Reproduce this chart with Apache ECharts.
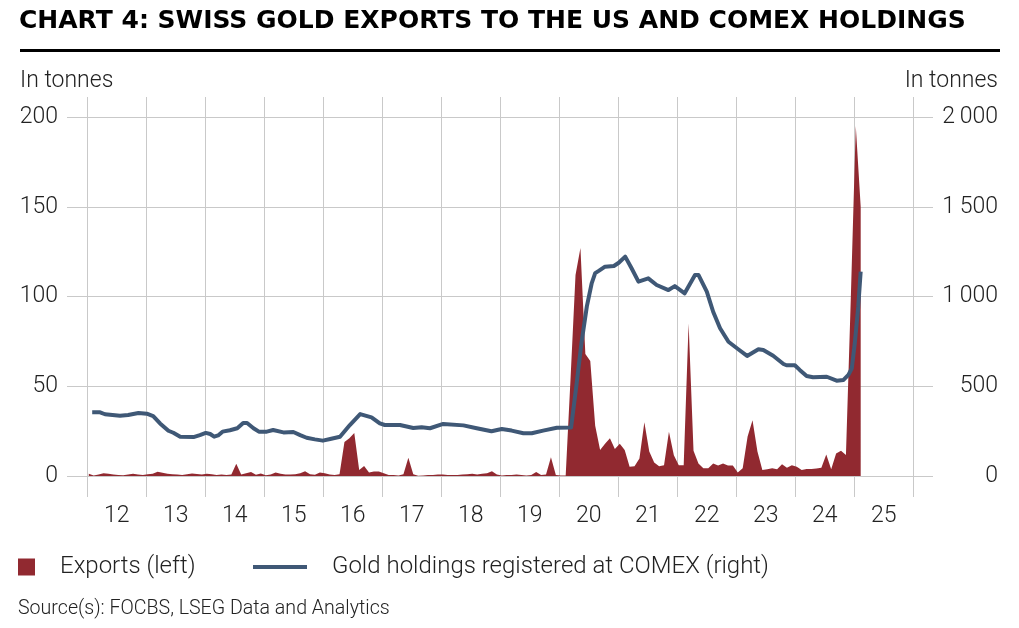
<!DOCTYPE html>
<html>
<head>
<meta charset="utf-8">
<title>Swiss gold exports to the US and COMEX holdings</title>
<script src="https://cdn.jsdelivr.net/npm/echarts@6/dist/echarts.min.js"></script>
<style>
  html, body { margin: 0; padding: 0; background: #fff; }
  #chart { width: 1019px; height: 628px; }
</style>
</head>
<body>
<div id="chart"></div>
<script>
  // year labels under the x axis (one per year band)
  const yearLabels = ['12', '13', '14', '15', '16', '17', '18', '19', '20', '21', '22', '23', '24', '25']

  // Swiss gold exports to the US, tonnes per month, Jan 2012 .. Feb 2025
  const exportsStart = 2012
  const exportsTonnes = [
    1.2, 0.3, 0.8, 1.5, 1.2, 0.8, 0.5, 0.4, 0.8, 1.2, 0.9, 0.6,
    1.0, 1.3, 2.3, 1.8, 1.2, 1.0, 0.8, 0.6, 1.0, 1.4, 1.1, 0.9,
    1.2, 1.0, 0.6, 0.9, 0.5, 0.8, 6.8, 0.9, 1.5, 2.2, 0.7, 1.4,
    0.4, 0.8, 2.0, 1.2, 0.9, 0.8, 1.0, 1.6, 2.6, 1.0, 0.7, 2.0,
    1.5, 0.8, 0.5, 1.0, 19, 21, 24, 3.3, 5.6, 2.0, 2.5, 2.5,
    1.5, 0.5, 0.5, 0.3, 1.0, 10.2, 1.0, 0.2, 0.3, 0.5, 0.5, 0.8,
    0.8, 0.5, 0.6, 0.5, 0.8, 1.0, 1.2, 0.8, 1.2, 1.5, 2.6, 0.8,
    0.3, 0.5, 0.5, 0.8, 0.6, 0.3, 0.5, 2.2, 0.5, 0.8, 10.5, 0.6,
    0.3, 0.3, 55, 112, 127, 68, 64, 28, 14.5, 18, 21, 15,
    18, 14.5, 5.2, 5.5, 9.8, 30, 13.6, 7.5, 5.5, 6, 24.7, 11.5,
    6, 6, 85, 14, 7, 4.3, 4.3, 7, 5.8, 7, 5.8, 5.8,
    2, 4.3, 22, 31, 13.6, 3.3, 3.7, 4.3, 3.7, 6.5, 4.6, 6,
    5.2, 3.3, 3.9, 3.9, 4.2, 4.6, 12, 3.7, 12.6, 14.1, 11.7, 100,
    195, 150,
  ]

  // gold holdings registered at COMEX, tonnes (dates as decimal years)
  const comexYear = [
    2012.083, 2012.217, 2012.300, 2012.554, 2012.692, 2012.867, 2013.008, 2013.117, 2013.233, 2013.375,
    2013.458, 2013.575, 2013.800, 2013.908, 2014.008, 2014.083, 2014.150, 2014.217, 2014.292, 2014.417,
    2014.542, 2014.642, 2014.708, 2014.817, 2014.908, 2015.042, 2015.150, 2015.325, 2015.492, 2015.608,
    2015.717, 2015.858, 2015.992, 2016.117, 2016.283, 2016.450, 2016.625, 2016.817, 2016.958, 2017.042,
    2017.300, 2017.525, 2017.667, 2017.808, 2018.033, 2018.375, 2018.600, 2018.850, 2019.025, 2019.192,
    2019.392, 2019.533, 2019.725, 2019.958, 2020.200, 2020.292, 2020.375, 2020.467, 2020.550, 2020.608,
    2020.675, 2020.775, 2020.925, 2021.008, 2021.117, 2021.225, 2021.342, 2021.508, 2021.650, 2021.850,
    2021.958, 2022.125, 2022.300, 2022.358, 2022.500, 2022.608, 2022.725, 2022.867, 2023.033, 2023.183,
    2023.375, 2023.458, 2023.625, 2023.800, 2023.850, 2023.992, 2024.075, 2024.192, 2024.300, 2024.533,
    2024.700, 2024.817, 2024.900, 2024.958, 2025.008, 2025.067, 2025.108,
  ]
  const comexTonnes = [
    355, 355, 344, 336, 340, 351, 347, 334, 293, 252,
    241, 219, 217, 228, 240, 234, 219, 226, 247, 255,
    266, 295, 295, 266, 247, 247, 256, 243, 245, 228,
    213, 204, 197, 206, 219, 284, 345, 327, 293, 284,
    284, 267, 271, 266, 290, 282, 266, 249, 262, 253,
    238, 238, 253, 269, 270, 510, 740, 945, 1075, 1130,
    1144, 1166, 1170, 1188, 1222, 1157, 1083, 1101, 1064, 1036,
    1058, 1018, 1120, 1120, 1027, 915, 823, 748, 706, 669,
    706, 702, 670, 624, 617, 617, 591, 557, 550, 553,
    531, 535, 563, 600, 739, 943, 1138,
  ]

  const RED = '#912930'
  const BLUE = '#3f5876'
  const GRID = '#c9c9c9'
  const TEXT = '#222'
  const FONT = 'Roboto, "Liberation Sans", sans-serif'

  // monthly points sit a little after the start of each month
  const exportsData = exportsTonnes.map((v, i) => [exportsStart + (i + 0.3) / 12, v])
  const comexData = comexYear.map((y, i) => [y, comexTonnes[i]])

  const fmtThousands = (v) => (v >= 1000 ? Math.floor(v / 1000) + '\u2009' + String(v % 1000).padStart(3, '0') : String(v))

  const labelStyle = { color: TEXT, fontSize: 23, fontFamily: FONT, fontWeight: 300 }
  const legendText = { ...labelStyle, fontSize: 24, padding: [0, 0, 0, 20] }

  const chart = echarts.init(document.getElementById('chart'), null, { renderer: 'canvas' })

  chart.setOption({
    animation: false,
    backgroundColor: '#fff',
    title: [
      {
        text: 'CHART 4: SWISS GOLD EXPORTS TO THE US AND COMEX HOLDINGS',
        left: 19,
        top: 9,
        padding: 0,
        textStyle: { color: '#000', fontSize: 25, fontWeight: 'bold', fontFamily: '"DejaVu Sans", sans-serif' },
      },
      { text: 'In tonnes', left: 20, top: 70, padding: 0, textStyle: labelStyle },
      { text: 'In tonnes', right: 21, top: 70, padding: 0, textStyle: labelStyle },
      {
        text: 'Source(s): FOCBS, LSEG Data and Analytics',
        left: 18,
        top: 599,
        padding: 0,
        textStyle: { color: TEXT, fontSize: 19.6, fontFamily: FONT, fontWeight: 300 },
      },
    ],
    // black rule under the title
    graphic: [
      {
        type: 'line',
        shape: { x1: 20, y1: 50.5, x2: 1000, y2: 50.5 },
        style: { stroke: '#000', lineWidth: 3 },
      },
    ],
    legend: [
      {
        data: ['Exports (left)'],
        left: 18,
        top: 555,
        padding: 0,
        icon: 'rect',
        itemWidth: 17,
        itemHeight: 17,
        textStyle: legendText,
      },
      {
        data: ['Gold holdings registered at COMEX (right)'],
        left: 253,
        top: 555,
        padding: 0,
        icon: 'rect',
        itemWidth: 54,
        itemHeight: 4,
        textStyle: legendText,
      },
    ],
    grid: [
      // horizontal gridlines and y labels
      { left: 67, right: 86, top: 117, bottom: 152 },
      // data area, year gridlines
      { left: 87.3, right: 105.7, top: 97, bottom: 131 },
    ],
    xAxis: [
      { gridIndex: 0, type: 'value', min: 0, max: 1, show: false },
      {
        gridIndex: 1,
        type: 'value',
        min: 2012,
        max: 2026,
        interval: 1,
        position: 'bottom',
        axisLine: { show: false },
        axisTick: { show: false },
        axisLabel: { show: false },
        splitLine: { show: true, lineStyle: { color: GRID, width: 1 } },
      },
      {
        gridIndex: 1,
        type: 'category',
        data: yearLabels,
        boundaryGap: true,
        position: 'bottom',
        axisLine: { show: false },
        axisTick: { show: false },
        splitLine: { show: false },
        axisLabel: { ...labelStyle, margin: 8, interval: 0 },
      },
    ],
    yAxis: [
      {
        gridIndex: 0,
        type: 'value',
        position: 'left',
        min: 0,
        max: 200,
        interval: 50,
        axisLine: { show: false },
        axisTick: { show: false },
        axisLabel: { ...labelStyle, margin: 9 },
        splitLine: { show: true, lineStyle: { color: GRID, width: 1 } },
      },
      {
        gridIndex: 0,
        type: 'value',
        position: 'right',
        min: 0,
        max: 2000,
        interval: 500,
        axisLine: { show: false },
        axisTick: { show: false },
        splitLine: { show: false },
        axisLabel: { ...labelStyle, margin: 65, align: 'right', formatter: fmtThousands },
      },
      // hidden scales for the data grid, lined up with the labelled ones
      { gridIndex: 1, type: 'value', min: -11.7, max: 211.14, show: false, splitLine: { show: false } },
      { gridIndex: 1, type: 'value', min: -117, max: 2111.4, show: false, splitLine: { show: false } },
    ],
    series: [
      {
        name: 'Exports (left)',
        type: 'line',
        xAxisIndex: 1,
        yAxisIndex: 2,
        data: exportsData,
        symbol: 'none',
        color: RED,
        itemStyle: { color: RED },
        lineStyle: { width: 0 },
        areaStyle: { color: RED, opacity: 1, origin: 0 },
        z: 2,
      },
      {
        name: 'Gold holdings registered at COMEX (right)',
        type: 'line',
        xAxisIndex: 1,
        yAxisIndex: 3,
        data: comexData,
        symbol: 'none',
        color: BLUE,
        itemStyle: { color: BLUE },
        lineStyle: { color: BLUE, width: 4, join: 'round', cap: 'butt' },
        z: 3,
      },
    ],
  })
</script>
</body>
</html>
